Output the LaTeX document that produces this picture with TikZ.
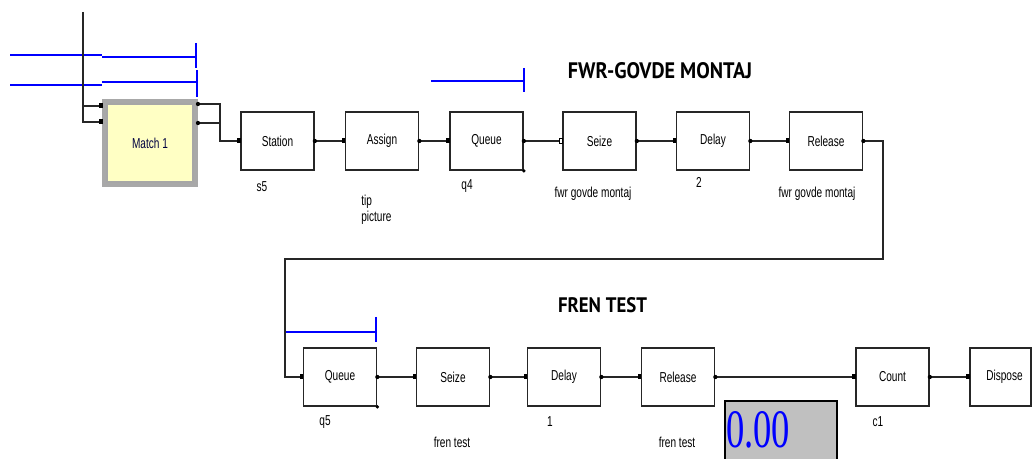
\documentclass[tikz,border=0pt]{standalone}
\usepackage{fontspec}
\usepackage{graphicx}
\setmainfont{Liberation Sans}
\newfontfamily\titlefont{PT Sans}
\newfontfamily\numfont{Liberation Serif}
\usetikzlibrary{calc}
\newlength\pxu
\setlength\pxu{0.75pt}
\newcommand\narrowtext[1]{\scalebox{0.7}[1]{#1}}
\definecolor{matchyellow}{HTML}{FFFFC4}
\definecolor{matchgray}{HTML}{A8A8A8}
\definecolor{panelgray}{HTML}{C0C0C0}
\tikzset{
  block/.style={draw=black!85, line width=1.3pt, fill=white, inner sep=0pt,
    minimum width=73\pxu, minimum height=58\pxu,
    font=\fontsize{10.8}{12}\selectfont},
  wire/.style={draw=black!85, line width=1.3pt},
  cue/.style={draw=blue, line width=1.1pt},
  info/.style={inner sep=0pt, anchor=base, font=\fontsize{10.8}{13}\selectfont},
  banner/.style={inner sep=0pt},
}
\begin{document}
\begin{tikzpicture}[x=0.75pt, y=-0.75pt]
\useasboundingbox (0,0) rectangle (1033,459);

% queue animation cues
\draw[cue] (10,55) -- (102,55);
\draw[cue] (102,57) -- (196,57);
\draw[cue] (196,43) -- (196,68);
\draw[cue] (10,85) -- (102,85);
\draw[cue] (102,82) -- (197,82);
\draw[cue] (197,70) -- (197,97);
\draw[cue] (431,81) -- (524,81);
\draw[cue] (524,68) -- (524,92);
\draw[cue] (285,332) -- (376,332);
\draw[cue] (376,317) -- (376,342);

% Match module
\fill[matchgray] (102,99) rectangle (198,187);
\draw[gray!70, line width=0.8pt, fill=matchyellow] (107,104) rectangle (193,182);
\node[inner sep=0pt, font=\fontsize{10.8}{12}\selectfont, text=black!75!blue] (match) at (150,143) {\narrowtext{Match 1}};

% top row
\node[block] (station) at (277.5,141) {\narrowtext{Station}};
\node[block] (assign)  at (382,141)   {\narrowtext{Assign}};
\node[block] (queueA)  at (486.5,141) {\narrowtext{Queue}};
\node[block] (seizeA)  at (599.5,141) {\narrowtext{Seize}};
\node[block] (delayA)  at (713,141)   {\narrowtext{Delay}};
\node[block] (releaseA) at (826,141)  {\narrowtext{Release}};

% bottom row
\node[block] (queueB)   at (340,377)  {\narrowtext{Queue}};
\node[block] (seizeB)   at (453,377)  {\narrowtext{Seize}};
\node[block] (delayB)   at (564,377)  {\narrowtext{Delay}};
\node[block] (releaseB) at (678,377)  {\narrowtext{Release}};
\node[block] (count)    at (892.5,377) {\narrowtext{Count}};
\node[block, minimum width=61\pxu] (dispose) at (1000.5,377) {\hspace*{8\pxu}\narrowtext{Dispose}};

% Match ports and feeds
\coordinate (feed) at (83,12);
\coordinate (fork) at (83,106);
\coordinate (minA) at (102,106);
\coordinate (minB) at (102,122);
\coordinate (moutA) at (198,104);
\coordinate (moutB) at (198,123);
\coordinate (join) at (220,141);
\draw[wire, line width=1.9pt] (feed) |- (minA);
\draw[wire] (fork) |- (minB);
\draw[wire] (moutA) -| (join) -- (station.west);
\draw[wire] (moutB) -- (moutB -| join);

% flow connectors
\draw[wire] (station) -- (assign);
\draw[wire] (assign) -- (queueA);
\draw[wire] (queueA) -- (seizeA);
\draw[wire] (seizeA) -- (delayA);
\draw[wire] (delayA) -- (releaseA);
\coordinate (turnR) at (883,259);
\coordinate (turnL) at (285,259);
\draw[wire] (releaseA.east) -| (turnR) -- (turnL) |- (queueB.west);
\draw[wire] (queueB) -- (seizeB);
\draw[wire] (seizeB) -- (delayB);
\draw[wire] (delayB) -- (releaseB);
\draw[wire] (releaseB) -- (count);
\draw[wire] (count) -- (dispose);

% entry and exit points
\foreach \n in {station,assign,queueA,delayA,releaseA,queueB,seizeB,delayB,releaseB,count,dispose}
  \fill[black] ($(\n.west)+(-3,-2.5)$) rectangle ++(3.5,5);
\fill[black] ($(minA)+(-3,-2.5)$) rectangle ++(3.5,5);
\fill[black] ($(minB)+(-3,-2.5)$) rectangle ++(3.5,5);
\draw[black, fill=white, line width=0.6pt] ($(seizeA.west)+(-3,-2.5)$) rectangle ++(3,5);
\foreach \n in {station,assign,queueA,seizeA,delayA,releaseA,queueB,seizeB,delayB,releaseB,count}
  \fill[black] (\n.east) circle[radius=1.6pt];
\fill[black] (moutA) circle[radius=1.6pt];
\fill[black] (moutB) circle[radius=1.6pt];
\fill[black] (queueA.south east) circle[radius=1.4pt];
\fill[black] (queueB.south east) circle[radius=1.4pt];

% module operands
\node[info] (s5)   at (262,192) {\narrowtext{s5}};
\node[info, anchor=base west] (tip) at (361,206) {\narrowtext{tip}};
\node[info, anchor=base west] (pict) at (361,222) {\narrowtext{picture}};
\node[info] (q4)   at (467,190) {\narrowtext{q4}};
\node[info] (resA) at (593,198) {\narrowtext{fwr govde montaj}};
\node[info] (two)  at (699,188) {\narrowtext{2}};
\node[info] (resB) at (817,198) {\narrowtext{fwr govde montaj}};
\node[info] (q5)   at (325,426) {\narrowtext{q5}};
\node[info] (resC) at (452,448) {\narrowtext{fren test}};
\node[info] (one)  at (550,427) {\narrowtext{1}};
\node[info] (resD) at (677,448) {\narrowtext{fren test}};
\node[info] (c1)   at (878,427) {\narrowtext{c1}};

% section titles
\node[banner] (titleA) at (660,71) {\resizebox{184\pxu}{16\pxu}{\titlefont\bfseries FWR-GOVDE MONTAJ}};
\node[banner] (titleB) at (602.5,305.5) {\resizebox{89\pxu}{15\pxu}{\titlefont\bfseries FREN TEST}};

% counter display
\draw[black, line width=0.8pt, fill=panelgray] (725,401) rectangle (837,470);
\node[inner sep=0pt, anchor=west, text=blue] (display) at (726,430) {\resizebox{64\pxu}{36\pxu}{\numfont 0.00}};
\end{tikzpicture}
\end{document}
